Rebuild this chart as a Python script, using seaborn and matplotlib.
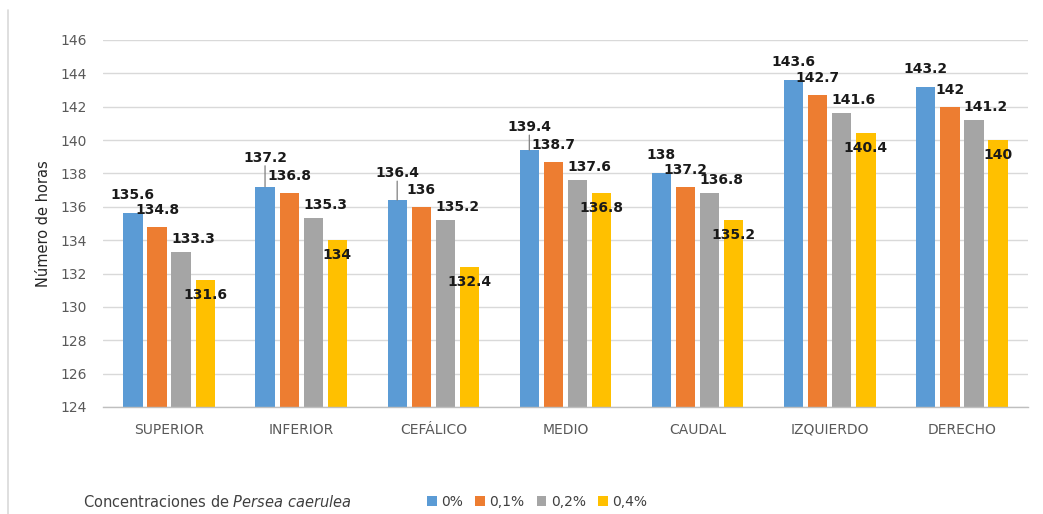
import matplotlib
matplotlib.use("Agg")
import matplotlib.pyplot as plt
from matplotlib.lines import Line2D
from matplotlib.patches import Patch
import seaborn as sns
import pandas as pd

# ---- data ----
categories = ["SUPERIOR", "INFERIOR", "CEFÁLICO", "MEDIO", "CAUDAL", "IZQUIERDO", "DERECHO"]
series_names = ["0%", "0,1%", "0,2%", "0,4%"]
v_0 = [135.6, 137.2, 136.4, 139.4, 138.0, 143.6, 143.2]
v_01 = [134.8, 136.8, 136.0, 138.7, 137.2, 142.7, 142.0]
v_02 = [133.3, 135.3, 135.2, 137.6, 136.8, 141.6, 141.2]
v_04 = [131.6, 134.0, 132.4, 136.8, 135.2, 140.4, 140.0]
label_text = [
    ["135.6", "137.2", "136.4", "139.4", "138", "143.6", "143.2"],
    ["134.8", "136.8", "136", "138.7", "137.2", "142.7", "142"],
    ["133.3", "135.3", "135.2", "137.6", "136.8", "141.6", "141.2"],
    ["131.6", "134", "132.4", "136.8", "135.2", "140.4", "140"],
]
y_ticks = [124, 126, 128, 130, 132, 134, 136, 138, 140, 142, 144, 146]

colors = ["#5B9BD5", "#ED7D31", "#A5A5A5", "#FFC000"]
# label offsets (pixels) per series, relative to bar top
label_dx = [0, 0, 12, 0]
label_dy = [18, 17, 13, -15]
leader_lift = {"INFERIOR": 29, "CEFÁLICO": 27, "MEDIO": 23}

all_vals = [v_0, v_01, v_02, v_04]
df = pd.DataFrame({
    "cat": [c for _ in series_names for c in categories],
    "serie": [s for s in series_names for _ in categories],
    "val": [v for vals in all_vals for v in vals],
})

sns.set_theme(style="white")
plt.rcParams["font.family"] = ["DejaVu Sans"]

fig = plt.figure(figsize=(10.43, 5.14), dpi=100)
ax = fig.add_axes([103 / 1043, 1 - 407 / 514, (1028 - 103) / 1043, (407 - 40) / 514])

sns.barplot(data=df, x="cat", y="val", hue="serie", order=categories,
            hue_order=series_names, palette=colors, width=0.73, gap=0.2,
            ax=ax, legend=False, saturation=1, edgecolor="none")

ax.set_ylim(124, 146)
ax.set_yticks(y_ticks)
ax.set_xlim(-0.5, len(categories) - 0.5)
ax.yaxis.grid(True, color="#D9D9D9", linewidth=1)
ax.set_axisbelow(True)
for s in ["top", "right", "left"]:
    ax.spines[s].set_visible(False)
ax.spines["bottom"].set_color("#BFBFBF")
ax.spines["bottom"].set_linewidth(1)
ax.tick_params(axis="both", length=0, colors="#595959", labelsize=10)
ax.tick_params(axis="y", pad=11.5)
ax.tick_params(axis="x", pad=11.5)
ax.set_xlabel("")
ax.set_ylabel("Número de horas", fontsize=10.5, color="#262626", labelpad=7)

# data labels
for si, cont in enumerate(ax.containers):
    for ci, bar in enumerate(cont):
        x = bar.get_x() + bar.get_width() / 2
        y = bar.get_height() + bar.get_y()
        dy = label_dy[si]
        if si == 0 and categories[ci] in leader_lift:
            dy = leader_lift[categories[ci]]
            ax.annotate("", xy=(x, y), xytext=(0, dy - 8), textcoords="offset pixels",
                        arrowprops=dict(arrowstyle="-", color="#808080", lw=0.9,
                                        shrinkA=0, shrinkB=0))
        ax.annotate(label_text[si][ci], xy=(x, y), xytext=(label_dx[si], dy),
                    textcoords="offset pixels", ha="center", va="center",
                    fontsize=10, fontweight="bold", color="#1a1a1a")

# bottom legend
fig.text(83 / 1043, 1 - 502 / 514, r"Concentraciones de $\it{Persea\ caerulea}$",
         fontsize=10.5, color="#404040", va="center", ha="left")
handles = [Patch(facecolor=c, edgecolor="none") for c in colors]
fig.legend(handles, series_names, loc="center", bbox_to_anchor=(537 / 1043, 1 - 502 / 514),
           ncol=4, frameon=False, fontsize=10, handlelength=0.7, handleheight=0.7,
           handletextpad=0.3, columnspacing=0.9, labelcolor="#404040")

# left border line
fig.add_artist(Line2D([8 / 1043, 8 / 1043], [0, 1 - 10 / 514], color="#D9D9D9", lw=1.2,
                      transform=fig.transFigure))

fig.savefig("out.png", dpi=100)
